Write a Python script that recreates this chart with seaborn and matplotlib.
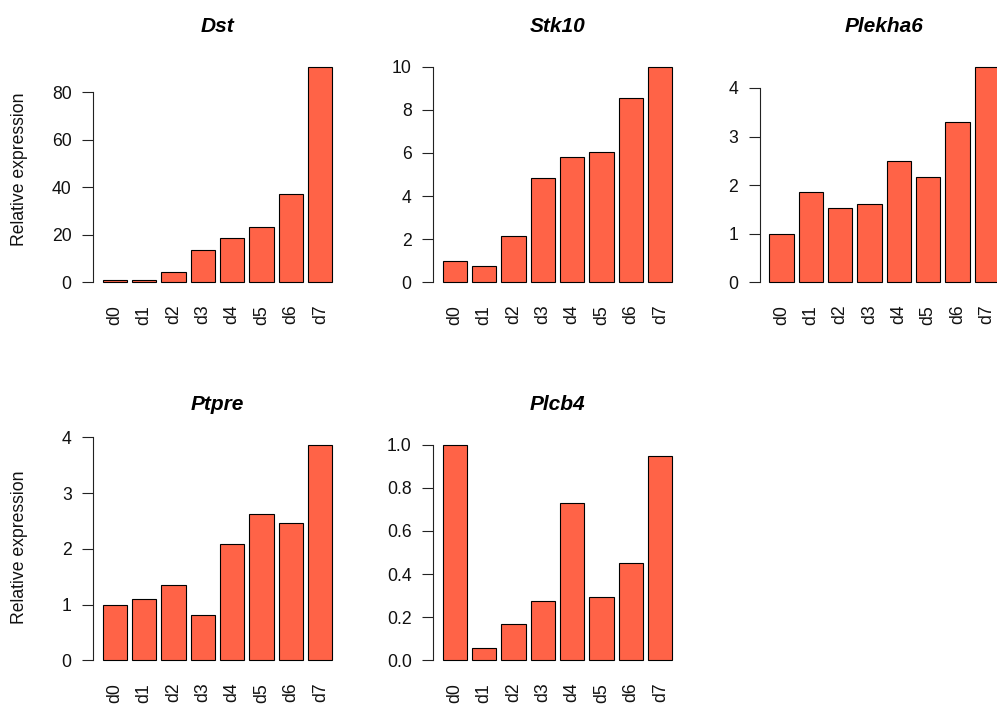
import matplotlib
matplotlib.use("Agg")
import matplotlib.pyplot as plt
import seaborn as sns
import pandas as pd

# Time points and relative expression per gene
days = ["d0", "d1", "d2", "d3", "d4", "d5", "d6", "d7"]
dst = [1.0, 1.0, 4.5, 13.6, 18.7, 23.4, 37.3, 90.8]
stk10 = [1.0, 0.77, 2.15, 4.85, 5.83, 6.03, 8.55, 10.0]
plekha6 = [1.0, 1.85, 1.52, 1.61, 2.49, 2.16, 3.31, 4.44]
ptpre = [1.0, 1.10, 1.35, 0.81, 2.08, 2.62, 2.46, 3.87]
plcb4 = [1.0, 0.057, 0.167, 0.275, 0.728, 0.292, 0.453, 0.947]

genes = ["Dst", "Stk10", "Plekha6", "Ptpre", "Plcb4"]
values = [dst, stk10, plekha6, ptpre, plcb4]
yticks = [
    [0, 20, 40, 60, 80],
    [0, 2, 4, 6, 8, 10],
    [0, 1, 2, 3, 4],
    [0, 1, 2, 3, 4],
    [0.0, 0.2, 0.4, 0.6, 0.8, 1.0],
]
ytick_labels = [
    ["0", "20", "40", "60", "80"],
    ["0", "2", "4", "6", "8", "10"],
    ["0", "1", "2", "3", "4"],
    ["0", "1", "2", "3", "4"],
    ["0.0", "0.2", "0.4", "0.6", "0.8", "1.0"],
]

sns.set_style("white")
plt.rcParams["font.family"] = ["Liberation Sans", "DejaVu Sans"]

W, H = 997, 706
fig = plt.figure(figsize=(W / 100, H / 100), dpi=100)

# panel placement in pixels: (left, top, bottom)
panel_w = 248.4
places = [
    (93.3, 58.0, 290.9),
    (433.3, 58.0, 290.9),
    (760.0, 58.0, 290.9),
    (93.3, 436.0, 668.9),
    (433.3, 436.0, 668.9),
]

bar_color = "#FF6347"
ink = "#111111"
fs = 12.7

for i, (gene, vals) in enumerate(zip(genes, values)):
    left, top, bottom = places[i]
    ax = fig.add_axes([left / W, 1 - bottom / H, panel_w / W, (bottom - top) / H])
    df = pd.DataFrame({"day": days, "expr": vals})
    sns.barplot(data=df, x="day", y="expr", color=bar_color, saturation=1,
                width=0.833, edgecolor="black", linewidth=0.8, ax=ax, errorbar=None)
    m = max(vals)
    ax.set_ylim(-0.04 * m, 1.04 * m)
    ax.set_xlim(-0.73, 7.73)
    ax.set_yticks(yticks[i])
    ax.set_yticklabels(ytick_labels[i])
    for s in ["top", "right", "bottom"]:
        ax.spines[s].set_visible(False)
    ax.spines["left"].set_bounds(yticks[i][0], yticks[i][-1])
    ax.spines["left"].set_color("#222222")
    ax.spines["left"].set_linewidth(0.8)
    ax.tick_params(axis="y", length=7.7, width=0.8, color="#222222",
                   pad=7.9, labelsize=fs, left=True, labelcolor=ink)
    ax.tick_params(axis="x", length=0, pad=10, labelsize=fs,
                   labelrotation=90, labelcolor=ink)
    ax.set_xlabel("")
    ax.set_title(gene, fontsize=15, fontweight="bold", fontstyle="italic",
                 pad=18.7, color="black")
    if i in (0, 3):
        ax.set_ylabel("Relative expression", fontsize=fs, color=ink)
        ax.yaxis.set_label_coords(-0.262, 0.521)
    else:
        ax.set_ylabel("")
    ax.set_facecolor("white")

fig.savefig("out.png", dpi=100, facecolor="white")
